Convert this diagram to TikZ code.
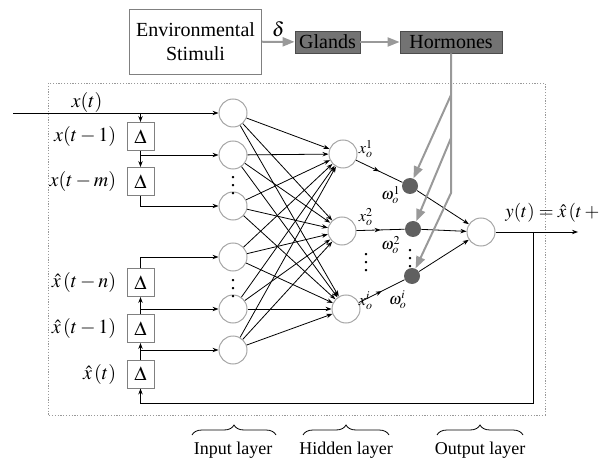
\documentclass[tikz,border=0pt]{standalone}
\usepackage{mathptmx}
\usepackage[no-math]{fontspec}
\setmainfont{Liberation Serif}
\usetikzlibrary{positioning,arrows.meta,decorations.markings,decorations.pathreplacing}

\begin{document}
\begin{tikzpicture}[x=.5pt,y=-.5pt,>={Stealth[length=3pt,width=2.2pt]},
  neuron/.style={circle,draw=gray!70,line width=.5pt,minimum size=14pt,inner sep=0pt},
  weight/.style={circle,fill=gray!75!black,minimum size=8pt,inner sep=0pt},
  delay/.style={draw=gray,line width=.5pt,minimum width=13.5pt,minimum height=14pt,inner sep=0pt},
  gland/.style={draw=black!70,fill=black!55,text=black,minimum height=11pt,inner sep=0pt,font=\fontsize{10}{12}\selectfont},
  hormone/.style={draw=gray!80,line width=1pt,-{Triangle[length=6pt,width=4.5pt]}},
  link/.style={line width=.4pt},
  midarrow/.style={postaction={decorate},decoration={markings,mark=at position .5 with {\arrow{>}}}},
  layer/.style={font=\fontsize{9}{10}\selectfont}]
\useasboundingbox (0,0) rectangle (603,459);
% top blocks
\node[draw=gray,minimum width=59.5pt,minimum height=32.5pt,align=center,font=\fontsize{10}{12}\selectfont] (env) at (195.5,41.5) {Environmental\\Stimuli};
\node[gland,minimum width=32.5pt] (glands) at (327.5,42) {Glands};
\node[gland,minimum width=51pt] (horm) at (451,42) {Hormones};
\draw[hormone] (env) -- (glands) node[midway,above=1pt,inner sep=1pt] (delta) {$\delta$};
\draw[hormone] (glands) -- (horm);
\draw[gray!80,dash pattern=on .6pt off .8pt] (48,83) rectangle (545,415);
% neurons
\foreach \n/\y in {0/113,1/155,2/206,3/257,4/309,5/350}
  \node[neuron] (in\n) at (233,\y) {};
\node[neuron] (h1) at (343,154) {};
\node[neuron] (h2) at (342,231) {};
\node[neuron] (h3) at (346,309) {};
\node[weight] (w1) at (410,186) {};
\node[weight] (w2) at (413,229) {};
\node[weight] (w3) at (412,276) {};
\node[neuron] (out) at (481,232) {};
% tapped delays
\foreach \n/\y in {1/136.5,2/181.5,3/282.5,4/328.5,5/374}
  \node[delay] (d\n) at (140.5,\y) {$\Delta$};
\node[left=4pt of d1,inner sep=1pt] (lx1) {$x(t-1)$};
\node[left=4pt of d2,inner sep=1pt] (lxm) {$x(t-m)$};
\node[left=4pt of d3,inner sep=1pt] (lhn) {$\hat{x}\left(t-n\right)$};
\node[left=4pt of d4,inner sep=1pt] (lh1) {$\hat{x}\left(t-1\right)$};
\node[left=4pt of d5,inner sep=1pt] (lh0) {$\hat{x}\left(t\right)$};
\coordinate (xin) at (13,113);
\node (lxt) at (87,103) {$x(t)$};
\draw[->] (xin) -- (in0);
\draw[->] (d1 |- in0) -- (d1);
\draw[->] (d1) -- (d2);
\draw[->] (d1 |- in1) -- (in1);
\draw[->] (d2.south) |- (in2);
\draw[->] (d3.north) |- (in3);
\draw[->] (d4) -- (d3);
\draw[->] (d3 |- in4) -- (in4);
\draw[->] (d5) -- (d4);
\draw[->] (d3 |- in5) -- (in5);
% network
\foreach \i in {0,...,5}
  \foreach \j in {1,2,3}
    \draw[link,->] (in\i) -- (h\j);
\foreach \k in {1,2,3} {
  \draw[link,midarrow] (h\k) -- (w\k);
  \draw[link,->] (w\k) -- (out);
}
\node[font=\footnotesize] (lxo1) at (366,149) {$x_o^1$};
\node[font=\footnotesize] (lxo2) at (366,217) {$x_o^2$};
\node[font=\footnotesize] (lxoi) at (366,301) {$x_o^i$};
\node[font=\footnotesize] (lw1) at (391,195) {$\omega_o^1$};
\node[font=\footnotesize] (lw2) at (391,245) {$\omega_o^2$};
\node[font=\footnotesize] (lwi) at (398,300) {$\omega_o^i$};
\node (dotin1) at (233,180) {$\vdots$};
\node (dotin2) at (233,283) {$\vdots$};
\node (doth) at (366,257) {$\vdots$};
\node (dotw) at (410,253) {$\vdots$};
% output and feedback
\coordinate (yend) at (578,232);
\coordinate (fb) at (533,232);
\coordinate (fbl) at (140.5,403);
\draw[->] (out) -- (yend);
\node[anchor=west,inner sep=0pt,font=\fontsize{9.5}{11}\selectfont] (ly) at (505,213) {$y(t)=\hat{x}\left(t+1\right)$};
\draw[->] (fb) |- (fbl) -- (d5);
% hormone paths
\coordinate (k1) at (451,95);
\coordinate (k2) at (451,138);
\coordinate (k3) at (451,193);
\draw[hormone] (k1) -- (w1);
\draw[hormone] (k2) -- (w2);
\draw[hormone] (horm) -- (k3) -- (w3);
% layer braces
\draw[decorate,decoration={brace,amplitude=5pt}] (192,435) -- (276,435);
\draw[decorate,decoration={brace,amplitude=5pt}] (303,435) -- (389,435);
\draw[decorate,decoration={brace,amplitude=5pt}] (437,435) -- (523,435);
\node[layer] (linput) at (233,450) {Input layer};
\node[layer] (lhidden) at (346,450) {Hidden layer};
\node[layer] (loutput) at (480,450) {Output layer};
\end{tikzpicture}
\end{document}
